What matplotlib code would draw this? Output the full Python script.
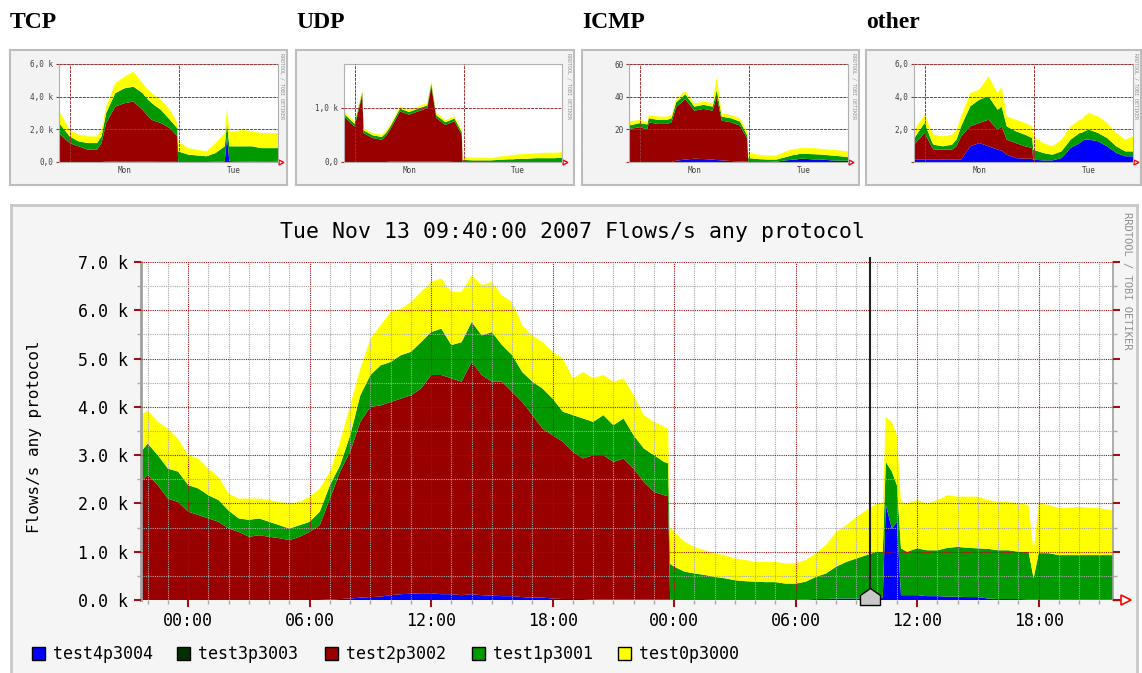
import numpy as np
import matplotlib
matplotlib.use("Agg")
import matplotlib.pyplot as plt
from matplotlib.path import Path
from matplotlib.patches import Rectangle
from matplotlib.ticker import MultipleLocator, FuncFormatter

W, H = 1142, 673
plt.rcParams["font.family"] = "DejaVu Sans Mono"

# ---- main graph: hours relative to Mon 00:00, values in k flows/s ----
hours = [-2.33, -2.0, -1.5, -1.0, -0.5, 0.0, 0.5, 1.0, 1.5, 2.0,
         2.5, 3.0, 3.5, 4.0, 4.5, 5.0, 5.5, 6.0, 6.5,
         7.0, 7.5, 8.0, 8.5, 9.0, 9.5, 10.0, 10.5, 11.0, 11.5,
         12.0, 12.5, 13.0, 13.5, 14.0, 14.5, 15.0, 15.5, 16.0, 16.5,
         17.0, 17.5, 18.0, 18.5, 19.0, 19.5, 20.0, 20.5, 21.0, 21.5,
         22.0, 22.5, 23.0, 23.5, 23.7,
         23.8,
         24.0, 24.5, 25.0, 25.5, 26.0, 26.5, 27.0, 27.5, 28.0, 28.5, 29.0, 29.5, 30.0,
         30.5, 31.0, 31.5, 32.0, 32.5, 33.0, 33.5, 34.0,
         34.3, 34.45, 34.75, 35.0, 35.2, 35.5,
         36.0, 36.5, 37.0, 37.5, 38.0, 38.5, 39.0, 39.5, 40.0, 40.5, 41.0, 41.5,
         41.75,
         42.0, 42.5, 43.0, 43.5, 44.0, 44.5, 45.0,
         45.67]

test4p3004 = [0, 0, 0, 0, 0, 0, 0, 0, 0, 0,
              0, 0, 0, 0, 0, 0, 0, 0, 0,
              0.01, 0.02, 0.03, 0.05, 0.06, 0.07, 0.10, 0.12, 0.13, 0.14,
              0.14, 0.12, 0.12, 0.10, 0.12, 0.10, 0.09, 0.08, 0.08, 0.06,
              0.05, 0.05, 0.03, 0.02, 0.02, 0.02, 0.01, 0.01, 0.01, 0.01,
              0.01, 0.01, 0.01, 0.01, 0.01,
              0.01,
              0, 0, 0, 0, 0, 0, 0, 0, 0, 0, 0, 0, 0,
              0.01, 0.02, 0.02, 0.03, 0.03, 0.03, 0.03, 0.04,
              0.04, 1.97, 1.48, 1.62, 0.10, 0.10,
              0.10, 0.08, 0.08, 0.07, 0.07, 0.06, 0.06, 0.03, 0.02, 0.02, 0.02, 0.01,
              0.01,
              0.01, 0.01, 0.01, 0.01, 0.01, 0.01, 0.01,
              0.01]

test3p3003 = [0.0] * len(hours)  # flat zero all along

test2p3002 = [2.45, 2.59, 2.38, 2.10, 2.03, 1.83, 1.76, 1.69, 1.62, 1.48,
              1.41, 1.31, 1.34, 1.31, 1.28, 1.24, 1.31, 1.41, 1.55,
              2.09, 2.64, 3.04, 3.64, 3.94, 3.96, 4.00, 4.05, 4.11, 4.24,
              4.52, 4.54, 4.47, 4.42, 4.81, 4.56, 4.43, 4.44, 4.23, 4.04,
              3.78, 3.50, 3.38, 3.26, 3.05, 2.91, 2.99, 2.99, 2.85, 2.92,
              2.71, 2.44, 2.23, 2.16, 2.14,
              0,
              0, 0, 0, 0, 0, 0, 0, 0, 0, 0, 0, 0, 0,
              0, 0, 0, 0, 0, 0, 0, 0,
              0, 0, 0, 0, 0, 0,
              0, 0, 0, 0, 0, 0, 0, 0, 0, 0, 0, 0,
              0,
              0, 0, 0, 0, 0, 0, 0,
              0]

test1p3001 = [0.62, 0.65, 0.62, 0.62, 0.63, 0.55, 0.55, 0.48, 0.45, 0.37,
              0.28, 0.35, 0.35, 0.31, 0.27, 0.24, 0.24, 0.21, 0.28,
              0.28, 0.13, 0.34, 0.55, 0.66, 0.83, 0.83, 0.90, 0.90, 0.96,
              0.89, 0.96, 0.69, 0.82, 0.83, 0.82, 1.03, 0.76, 0.76, 0.62,
              0.69, 0.83, 0.76, 0.62, 0.76, 0.83, 0.69, 0.83, 0.76, 0.83,
              0.69, 0.69, 0.76, 0.69, 0.68,
              0.74,
              0.69, 0.59, 0.55, 0.52, 0.48, 0.45, 0.41, 0.39, 0.38, 0.37, 0.37, 0.34, 0.34,
              0.37, 0.46, 0.53, 0.66, 0.76, 0.83, 0.90, 0.96,
              0.96, 0.89, 1.18, 0.76, 0.97, 0.90,
              0.97, 0.95, 0.95, 1.01, 1.03, 1.02, 1.01, 1.03, 1.01, 1.01, 0.98, 0.99,
              0.44,
              0.96, 0.96, 0.92, 0.92, 0.92, 0.92, 0.92,
              0.92]

test0p3000 = [0.76, 0.69, 0.69, 0.83, 0.68, 0.62, 0.62, 0.55, 0.48, 0.35,
              0.41, 0.44, 0.41, 0.45, 0.48, 0.52, 0.48, 0.52, 0.48,
              0.28, 0.49, 0.62, 0.55, 0.75, 0.83, 1.04, 0.96, 1.03, 1.04,
              1.04, 1.04, 1.10, 1.04, 0.96, 1.04, 1.04, 1.03, 1.10, 0.97,
              0.96, 0.96, 0.97, 1.10, 0.76, 0.96, 0.90, 0.83, 0.90, 0.83,
              0.83, 0.69, 0.69, 0.73, 0.72,
              0.75,
              0.72, 0.62, 0.55, 0.51, 0.49, 0.48, 0.45, 0.44, 0.41, 0.42, 0.42, 0.42, 0.42,
              0.45, 0.49, 0.59, 0.72, 0.76, 0.86, 0.93, 1.00,
              1.00, 0.93, 1.03, 1.03, 0.96, 1.00,
              1.00, 0.97, 1.04, 1.09, 1.04, 1.06, 1.07, 1.01, 1.00, 1.00, 1.00, 0.97,
              0.55,
              1.03, 1.00, 0.97, 0.98, 1.00, 0.98, 0.97,
              0.93]

names = ["test4p3004", "test3p3003", "test2p3002", "test1p3001", "test0p3000"]
colors = ["#0000ff", "#003000", "#990000", "#009a00", "#ffff00"]

x_tick_hours = [0, 6, 12, 18, 24, 30, 36, 42]
x_tick_labels = ["00:00", "06:00", "12:00", "18:00", "00:00", "06:00", "12:00", "18:00"]
now_hour = 33.67
title = "Tue Nov 13 09:40:00 2007 Flows/s any protocol"

# ---- thumbnails (blue, red, green, yellow) ----
thumb_hours = [-2.33, -2, 0, 1.7, 2, 4, 6, 7, 8, 10,
               12, 14, 16, 16.9, 18, 20, 22, 23.6, 23.8, 26,
               28, 30, 32, 34, 34.5, 35, 36, 38, 40, 42,
               44, 45.67]

tcp_blue = [0, 0, 0, 0, 0, 0, 0, 0, 0.02, 0.03,
            0.04, 0.04, 0.03, 0.03, 0.02, 0.01, 0.01, 0.01, 0, 0,
            0, 0, 0.02, 0.03, 1.57, 0.05, 0.04, 0.03, 0.02, 0.01,
            0.01, 0.01]
tcp_red = [1.62, 1.67, 1.16, 0.98, 0.96, 0.75, 0.75, 1.16, 2.36, 3.36,
           3.56, 3.66, 3.16, 2.87, 2.56, 2.37, 2.06, 1.56, 0, 0,
           0, 0, 0, 0, 0, 0, 0, 0, 0, 0,
           0, 0]
tcp_green = [0.58, 0.61, 0.41, 0.32, 0.30, 0.41, 0.41, 0.41, 0.61, 0.82,
             0.91, 0.91, 1.02, 1.00, 1.02, 0.81, 0.51, 0.50, 0.65, 0.45,
             0.40, 0.35, 0.53, 0.93, 0.81, 0.91, 0.92, 0.93, 0.94, 0.84,
             0.84, 0.84]
tcp_yellow = [0.70, 0.72, 0.40, 0.40, 0.41, 0.41, 0.41, 0.40, 0.40, 0.61,
              0.71, 0.92, 0.61, 0.60, 0.61, 0.61, 0.61, 0.31, 0.61, 0.40,
              0.35, 0.30, 0.61, 0.81, 0.91, 0.91, 0.91, 1.01, 0.91, 0.92,
              0.92, 0.92]

udp_blue = [0, 0, 0, 0, 0, 0, 0, 0, 0.01, 0.01,
            0.01, 0.01, 0.01, 0.01, 0.01, 0.01, 0, 0, 0, 0,
            0, 0, 0, 0, 0, 0, 0, 0, 0, 0,
            0, 0]
udp_red = [1.02, 0.81, 0.65, 1.23, 0.53, 0.44, 0.41, 0.49, 0.61, 0.92,
           0.86, 0.92, 0.98, 1.38, 0.80, 0.67, 0.75, 0.50, 0, 0,
           0, 0, 0, 0, 0, 0, 0, 0, 0, 0,
           0, 0]
udp_green = [0.05, 0.05, 0.05, 0.05, 0.05, 0.05, 0.05, 0.05, 0.05, 0.05,
             0.05, 0.05, 0.05, 0.05, 0.05, 0.05, 0.05, 0.05, 0.04, 0.03,
             0.03, 0.03, 0.04, 0.05, 0.05, 0.05, 0.06, 0.06, 0.07, 0.07,
             0.07, 0.08]
udp_yellow = [0.04, 0.04, 0.04, 0.04, 0.04, 0.04, 0.04, 0.04, 0.04, 0.04,
              0.04, 0.04, 0.04, 0.04, 0.04, 0.04, 0.04, 0.04, 0.06, 0.05,
              0.05, 0.04, 0.06, 0.07, 0.08, 0.08, 0.08, 0.09, 0.09, 0.10,
              0.10, 0.10]

icmp_blue = [0, 0, 0, 0, 0, 0, 0, 0, 0.8, 1.5,
             2.0, 1.8, 1.5, 1.2, 1.0, 0.6, 0.3, 0.2, 0, 0,
             0, 0.2, 1.0, 1.5, 1.6, 2.0, 2.0, 1.6, 1.5, 1.0,
             0.8, 0.8]
icmp_red = [22.3, 20.3, 21.3, 20.0, 24.3, 23.3, 23.3, 24.3, 32.7, 37.0,
            29.4, 30.7, 29.9, 38.8, 24.3, 23.7, 22.0, 14.0, 0, 0,
            0, 0, 0, 0, 0, 0, 0, 0, 0, 0,
            0, 0]
icmp_green = [2.5, 2.2, 2.5, 3.0, 2.5, 2.5, 2.5, 2.5, 3.0, 3.0,
              2.5, 2.5, 2.5, 4.0, 2.5, 2.5, 2.5, 2.0, 2.4, 1.8,
              1.5, 1.3, 2.0, 3.0, 2.9, 3.0, 3.0, 3.2, 3.0, 3.0,
              2.7, 2.2]
icmp_yellow = [2.0, 2.3, 2.0, 1.8, 2.0, 2.0, 2.0, 2.0, 2.0, 2.0,
               2.0, 2.0, 2.0, 8.4, 2.0, 2.0, 2.0, 2.2, 3.1, 2.7,
               2.5, 2.5, 3.5, 3.5, 3.5, 3.5, 3.5, 3.7, 3.5, 3.5,
               3.5, 3.5]

other_blue = [0.14, 0.14, 0.14, 0.14, 0.14, 0.14, 0.14, 0.14, 0.14, 0.96,
              1.16, 0.96, 0.76, 0.70, 0.45, 0.24, 0.20, 0.20, 0.14, 0.10,
              0.10, 0.24, 0.86, 1.16, 1.27, 1.37, 1.37, 1.27, 0.96, 0.55,
              0.35, 0.35]
other_red = [0.92, 1.02, 1.64, 0.72, 0.62, 0.62, 0.62, 0.82, 1.43, 1.22,
             1.23, 1.63, 1.22, 1.48, 0.92, 0.92, 0.76, 0.66, 0, 0,
             0, 0, 0, 0, 0, 0, 0, 0, 0, 0,
             0, 0]
other_green = [0.31, 0.41, 0.61, 0.30, 0.30, 0.20, 0.30, 0.41, 0.61, 1.23,
               1.43, 1.43, 1.22, 1.20, 0.81, 0.72, 0.71, 0.61, 0.62, 0.45,
               0.35, 0.41, 0.51, 0.62, 0.53, 0.51, 0.61, 0.51, 0.51, 0.41,
               0.30, 0.30]
other_yellow = [0.41, 0.51, 0.51, 0.62, 0.61, 0.61, 0.61, 0.61, 0.62, 0.81,
                0.61, 1.22, 1.02, 1.22, 0.62, 0.71, 0.72, 0.71, 0.81, 0.61,
                0.51, 0.72, 0.81, 0.81, 0.79, 0.92, 1.02, 1.02, 0.92, 0.82,
                0.72, 0.92]

thumb_colors = ["#0000ff", "#990000", "#009a00", "#ffff00"]
RED = "#a01010"
GRID_GRAY = "#a8a8a8"


def rect(x0, y0, x1, y1):
    # pixel box (top-left origin) -> figure fraction
    return [x0 / W, 1 - y1 / H, (x1 - x0) / W, (y1 - y0) / H]


def frame(x0, y0, x1, y1, face, edge, lw):
    b = fig.add_axes(rect(x0, y0, x1, y1), zorder=0)
    b.set_facecolor(face)
    b.set_xticks([])
    b.set_yticks([])
    for s in b.spines.values():
        s.set_color(edge)
        s.set_linewidth(lw)
    return b


fig = plt.figure(figsize=(W / 100, H / 100), dpi=100)
fig.patch.set_facecolor("white")

# ---- thumbnails ----
thumbs = [
    ("TCP", (10, 287), (59, 278), [tcp_blue, tcp_red, tcp_green, tcp_yellow],
     6.0, [0, 2, 4, 6], ["0,0", "2,0 k", "4,0 k", "6,0 k"]),
    ("UDP", (296, 574), (344, 562), [udp_blue, udp_red, udp_green, udp_yellow],
     1.8, [0, 1], ["0,0", "1,0 k"]),
    ("ICMP", (582, 859), (629, 848), [icmp_blue, icmp_red, icmp_green, icmp_yellow],
     60, [0, 20, 40, 60], ["", "20", "40", "60"]),
    ("other", (866, 1141), (914, 1133), [other_blue, other_red, other_green, other_yellow],
     6.0, [0, 2, 4, 6], ["", "2,0", "4,0", "6,0"]),
]

for name, box, plot, series, top, ticks, labels in thumbs:
    frame(box[0], 50, box[1], 185, "#f3f3f3", "#bdbdbd", 1.5)
    fig.text(box[0] / W, 1 - 23 / H, name, family="Liberation Serif",
             weight="bold", fontsize=17, va="center", ha="left")
    ta = fig.add_axes(rect(plot[0], 64, plot[1], 162), zorder=1)
    ta.stackplot(thumb_hours, *series, colors=thumb_colors, linewidth=0, zorder=1)
    ta.set_xlim(thumb_hours[0], thumb_hours[-1])
    ta.set_ylim(0, top)
    for h in (0, 24):
        ta.axvline(h, color="#a03030", lw=0.7, ls=(0, (3, 1)), zorder=3)
    for v in ticks[1:]:
        ta.axhline(v, color="#a03030", lw=0.7, ls=(0, (3, 1)), zorder=3)
    ta.set_yticks(ticks)
    ta.set_yticklabels(labels, fontsize=5.5, color="#404040")
    ta.set_xticks([12, 36])
    ta.set_xticklabels(["Mon", "Tue"], fontsize=5.5, color="#404040")
    ta.tick_params(axis="x", length=0, pad=3)
    ta.tick_params(axis="y", length=2, color="#a03030", pad=2)
    for s in ta.spines.values():
        s.set_color("#b0b0b0")
        s.set_linewidth(0.8)
    ta.plot([1.015], [0], marker=">", ms=3.5, mfc="white", mec="red",
            transform=ta.transAxes, clip_on=False)
    fig.text((box[1] - 5) / W, 1 - 53 / H, "RRDTOOL / TOBI OETIKER",
             rotation=270, fontsize=3.6, color="#909090", ha="center", va="top")

# ---- main graph ----
frame(11, 205, 1137, 680, "#f5f5f5", "#c8c8c8", 2)

ax = fig.add_axes(rect(141, 262, 1113, 600), zorder=2)
ax.set_facecolor("white")
ax.stackplot(hours, test4p3004, test3p3003, test2p3002, test1p3001, test0p3000,
             colors=colors, linewidth=0, zorder=1)
ax.set_xlim(hours[0], hours[-1])
ax.set_ylim(0, 7)
ax.set_xticks(x_tick_hours)
ax.set_xticklabels(x_tick_labels)
ax.xaxis.set_minor_locator(MultipleLocator(1))
ax.yaxis.set_major_locator(MultipleLocator(1))
ax.yaxis.set_minor_locator(MultipleLocator(0.5))
ax.yaxis.set_major_formatter(FuncFormatter(lambda v, p: f"{v:.1f} k"))
ax.set_axisbelow(False)
ax.grid(which="major", color=RED, ls=(0, (1, 1)), lw=0.8)
ax.grid(which="minor", color=GRID_GRAY, ls=(0, (1, 1)), lw=0.8)
ax.tick_params(which="major", direction="out", length=5, width=1.5, color=RED,
               left=True, right=True, bottom=True, labelsize=12, pad=4)
ax.tick_params(which="minor", direction="out", length=3, width=1, color=GRID_GRAY,
               left=True, right=True, bottom=True)
ax.spines["top"].set_visible(False)
ax.spines["bottom"].set_visible(False)
ax.spines["left"].set_color("#a0a0a0")
ax.spines["left"].set_linewidth(2)
ax.spines["right"].set_color("#a0a0a0")
ax.spines["right"].set_linewidth(1.2)

# "now" marker line and house
ax.axvline(now_hour, ymin=0, ymax=1.012, color="#202020", lw=1.5, zorder=4, clip_on=False)
house = Path([(-10, -5), (10, -5), (10, 5), (0, 12), (-10, 5), (-10, -5)],
             [Path.MOVETO, Path.LINETO, Path.LINETO, Path.LINETO, Path.LINETO, Path.CLOSEPOLY])
ax.plot([now_hour], [0], marker=house, ms=17.3, mfc="#c8c8c8", mec="black",
        mew=1, clip_on=False, zorder=6)

# arrow at the end of the time axis
ax.plot([1.0, 1.008], [0, 0], transform=ax.transAxes, color="red", lw=1, clip_on=False)
ax.plot([1.013], [0], marker=">", ms=7, mfc="white", mec="red", mew=1.2,
        transform=ax.transAxes, clip_on=False)

fig.text(572 / W, 1 - 232 / H, title, ha="center", va="center", fontsize=15.5)
fig.text(35 / W, 1 - 437 / H, "Flows/s any protocol", rotation=90,
         ha="center", va="center", fontsize=11.5)
fig.text(1127 / W, 1 - 212 / H, "RRDTOOL / TOBI OETIKER", rotation=270,
         ha="center", va="top", fontsize=7.5, color="#909090")

# legend
legend_x = [32, 177, 325, 472, 618]
for lx, nm, c in zip(legend_x, names, colors):
    fig.add_artist(Rectangle((lx / W, 1 - 660 / H), 13 / W, 13 / H,
                             transform=fig.transFigure, facecolor=c,
                             edgecolor="black", lw=1))
    fig.text((lx + 21) / W, 1 - 654 / H, nm, ha="left", va="center", fontsize=12)

fig.savefig("out.png", dpi=100)
